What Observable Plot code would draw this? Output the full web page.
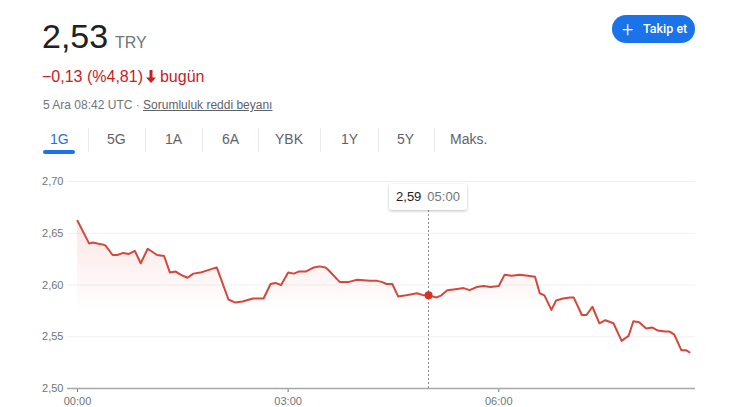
<!DOCTYPE html>
<html>
<head>
<meta charset="utf-8">
<script src="https://cdn.jsdelivr.net/npm/d3@7"></script>
<script src="https://cdn.jsdelivr.net/npm/@observablehq/plot@0.6"></script>
<style>
  html, body { margin: 0; padding: 0; background: #fff; }
  body { width: 751px; height: 407px; position: relative; overflow: hidden; font-family: Arial, "Liberation Sans", sans-serif; }
  .abs { position: absolute; white-space: nowrap; }
  #price { left: 42px; top: 16px; font-size: 34px; color: #202124; line-height: 40px; }
  #cur { left: 115px; top: 33px; font-size: 16px; color: #70757a; line-height: 20px; }
  #change { left: 42px; top: 67px; font-size: 16px; color: #c5221f; line-height: 20px; }
  #change svg { vertical-align: -1px; margin: 0 3px 0 2px; }
  #meta { left: 43px; top: 98px; font-size: 12px; color: #70757a; line-height: 14px; }
  #meta u { color: #5f6368; }
  .tab { top: 131px; font-size: 14px; color: #5f6368; line-height: 16px; }
  .tab.active { color: #1a73e8; }
  .sep { top: 128px; width: 1px; height: 24px; background: #e8eaed; }
  #underline { left: 43px; top: 150px; width: 32px; height: 4px; border-radius: 2px; background: #1a73e8; }
  #btn { left: 612px; top: 15px; width: 83px; height: 28px; border-radius: 14px; background: #1a73e8; color: #fff; font-size: 12.5px; line-height: 28px; font-family: Roboto, Arial, sans-serif; }
  #btn .plus { position: absolute; left: 10px; top: 0; font-size: 20px; font-weight: 300; }
  #btn .lbl { position: absolute; left: 31px; top: 0; font-weight: 500; }
  #chart { position: absolute; left: 0; top: 165px; }
  #tip { top: 184px; height: 26px; background: #fff; box-shadow: 0 1px 3px rgba(0,0,0,0.25); border-radius: 2px; font-size: 13px; line-height: 26px; padding: 0 7px; }
  #tip .v { color: #202124; }
  #tip .t { color: #70757a; margin-left: 6px; }
</style>
</head>
<body>
<div id="price" class="abs"></div>
<div id="cur" class="abs"></div>
<div id="change" class="abs"></div>
<div id="meta" class="abs"></div>
<div id="underline" class="abs"></div>
<div id="btn" class="abs"><span class="plus">+</span><span class="lbl"></span></div>
<div id="chart"></div>
<script>
// ---- data ----
const times = ["00:00","00:10","00:13","00:17","00:22","00:24","00:30","00:34","00:39","00:44","00:49","00:54","01:00","01:08","01:14","01:19","01:24","01:28","01:34","01:39","01:45","01:59","02:09","02:15","02:21","02:30","02:39","02:45","02:49","02:54","03:00","03:05","03:09","03:15","03:22","03:27","03:32","03:34","03:44","03:52","03:59","04:10","04:16","04:20","04:24","04:29","04:34","04:41","04:50","04:56","05:00","05:07","05:11","05:16","05:23","05:30","05:35","05:41","05:47","05:53","06:00","06:05","06:11","06:18","06:25","06:31","06:35","06:39","06:45","06:49","06:55","07:01","07:04","07:11","07:15","07:20","07:26","07:31","07:38","07:45","07:51","07:55","08:00","08:06","08:11","08:16","08:22","08:26","08:30","08:36","08:40","08:43"];
const values = [2.662,2.640,2.641,2.640,2.639,2.638,2.629,2.629,2.631,2.630,2.633,2.621,2.635,2.629,2.628,2.612,2.613,2.610,2.607,2.611,2.612,2.617,2.586,2.583,2.584,2.587,2.587,2.601,2.602,2.600,2.612,2.611,2.613,2.613,2.617,2.618,2.617,2.615,2.603,2.603,2.605,2.604,2.604,2.603,2.601,2.601,2.589,2.590,2.592,2.590,2.590,2.588,2.590,2.595,2.596,2.597,2.595,2.598,2.599,2.598,2.599,2.610,2.609,2.610,2.609,2.608,2.592,2.590,2.576,2.585,2.587,2.588,2.588,2.571,2.571,2.579,2.563,2.566,2.563,2.546,2.551,2.565,2.564,2.558,2.559,2.556,2.555,2.555,2.552,2.537,2.537,2.535];
const yDomain = [2.50, 2.70];
const yTicks = [2.50, 2.55, 2.60, 2.65, 2.70];
const xTicks = ["00:00", "03:00", "06:00"];
const hoverTime = "05:00";
const hoverValue = 2.590;
const hoverLabel = "2,59";
const tabs = ["1G", "5G", "1A", "6A", "YBK", "1Y", "5Y", "Maks."];
const headerPrice = "2,53";
const headerCurrency = "TRY";
const headerChange = "−0,13 (%4,81)";
const headerToday = "bugün";
const metaText = "5 Ara 08:42 UTC · ";
const metaLink = "Sorumluluk reddi beyanı";
const buttonText = "Takip et";

// ---- header ----
document.getElementById("price").textContent = headerPrice;
document.getElementById("cur").textContent = headerCurrency;
document.getElementById("change").innerHTML = headerChange +
  '<svg width="12" height="13" viewBox="0 0 12 13"><path d="M4.5 0h3v7.5h3.5L6 13 1 7.5h3.5z" fill="#c5221f"/></svg>' + headerToday;
document.getElementById("meta").innerHTML = metaText + "<u>" + metaLink + "</u>";
document.querySelector("#btn .lbl").textContent = buttonText;

const tabX = [50, 107, 165, 222, 275, 341, 397, 450];
const sepX = [88, 145, 202, 258, 320, 378, 434];
tabs.forEach((t, i) => {
  const d = document.createElement("div");
  d.className = "abs tab" + (i === 0 ? " active" : "");
  d.style.left = tabX[i] + "px";
  d.textContent = t;
  document.body.appendChild(d);
});
sepX.forEach(x => {
  const d = document.createElement("div");
  d.className = "abs sep";
  d.style.left = x + "px";
  document.body.appendChild(d);
});

// ---- chart ----
const toDate = s => { const [h, m] = s.split(":").map(Number); return new Date(Date.UTC(2022, 11, 5, h, m)); };
const data = times.map((t, i) => ({date: toDate(t), value: values[i]}));
const fmt = v => v.toFixed(2).replace(".", ",");

const chart = Plot.plot({
  width: 751,
  height: 242,
  marginLeft: 67,
  marginRight: 56,
  marginTop: 16,
  marginBottom: 19,
  style: {fontFamily: "Arial, 'Liberation Sans', sans-serif", fontSize: "11px", color: "#70757a", background: "transparent", overflow: "visible"},
  x: {type: "utc", domain: [data[0].date, data[data.length - 1].date], insetLeft: 10, insetRight: 6,
      ticks: xTicks.map(toDate), tickFormat: d3.utcFormat("%H:%M"), tickSize: 4, tickPadding: 5, label: null},
  y: {domain: yDomain, ticks: yTicks, tickFormat: fmt, tickSize: 0, tickPadding: 4, label: null},
  marks: [
    Plot.ruleY(yTicks, {stroke: "#eef0f2", strokeWidth: 1}),
    Plot.areaY(data, {x: "date", y1: () => yDomain[0], y2: "value", fill: "url(#fade)"}),
    Plot.ruleY([yDomain[0]], {stroke: "#a8a8a8", strokeWidth: 1.5}),
    Plot.ruleX([toDate(hoverTime)], {stroke: "#8a8a8a", strokeWidth: 1, strokeDasharray: "2,2", insetTop: 29}),
    Plot.lineY(data, {x: "date", y: "value", stroke: "#d6463b", strokeWidth: 2, strokeLinejoin: "round"}),
    Plot.dot([{date: toDate(hoverTime), value: hoverValue}], {x: "date", y: "value", r: 4, fill: "#d93025", stroke: "none"})
  ]
});

const svg = d3.select(chart);
const defs = svg.insert("defs", ":first-child");
const grad = defs.append("linearGradient").attr("id", "fade").attr("x1", 0).attr("y1", 0).attr("x2", 0).attr("y2", 1);
grad.append("stop").attr("offset", "0%").attr("stop-color", "#ea4335").attr("stop-opacity", 0.13);
grad.append("stop").attr("offset", "55%").attr("stop-color", "#ea4335").attr("stop-opacity", 0);
document.getElementById("chart").appendChild(chart);

// tooltip positioned with the library's x scale
const cx = chart.scale("x").apply(toDate(hoverTime));
const tip = document.createElement("div");
tip.id = "tip";
tip.className = "abs";
tip.innerHTML = '<span class="v">' + hoverLabel + '</span><span class="t">' + hoverTime + '</span>';
document.body.appendChild(tip);
tip.style.left = (cx - tip.offsetWidth / 2) + "px";
</script>
</body>
</html>
